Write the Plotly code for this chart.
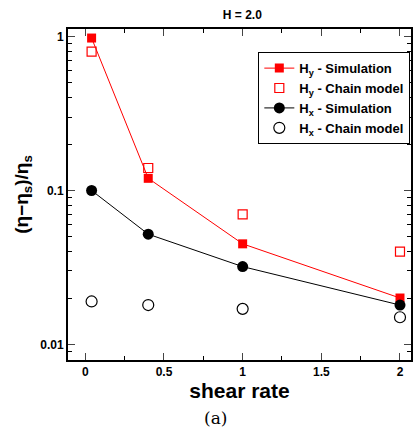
import plotly.graph_objects as go

shear = [0.04, 0.4, 1.0, 2.0]
hy_sim = [0.98, 0.12, 0.045, 0.020]
hy_chain = [0.80, 0.14, 0.070, 0.040]
hx_sim = [0.10, 0.052, 0.032, 0.018]
hx_chain = [0.019, 0.018, 0.017, 0.015]

ytickvals = [1, 0.1, 0.01]
yticktext = ["1", "0.1", "0.01"]

FONT = "Liberation Sans"

fig = go.Figure()
fig.add_trace(go.Scatter(x=shear, y=hy_sim, mode="lines+markers",
                         name="<b>H<sub>y</sub> - Simulation</b>",
                         line=dict(color="red", width=1),
                         marker=dict(symbol="square", size=9, color="red")))
fig.add_trace(go.Scatter(x=shear, y=hy_chain, mode="markers",
                         name="<b>H<sub>y</sub> - Chain model</b>",
                         marker=dict(symbol="square-open", size=9, color="red", line=dict(width=1.2))))
fig.add_trace(go.Scatter(x=shear, y=hx_sim, mode="lines+markers",
                         name="<b>H<sub>x</sub> - Simulation</b>",
                         line=dict(color="black", width=1),
                         marker=dict(symbol="circle", size=11, color="black")))
fig.add_trace(go.Scatter(x=shear, y=hx_chain, mode="markers",
                         name="<b>H<sub>x</sub> - Chain model</b>",
                         marker=dict(symbol="circle-open", size=11, color="black", line=dict(width=1.2))))

fig.update_layout(
    width=415, height=432,
    margin=dict(l=68, r=2, t=29, b=72),
    paper_bgcolor="white", plot_bgcolor="white",
    font=dict(family=FONT, color="black", size=12),
    showlegend=True,
    title=dict(text="<b>H = 2.0</b>", x=0.584, xanchor="center", y=0.965, yanchor="middle",
               font=dict(size=12, family=FONT)),
    legend=dict(x=0.998, xanchor="right", y=0.93, yanchor="top",
                bordercolor="black", borderwidth=1, bgcolor="white",
                font=dict(size=13, family=FONT), tracegroupgap=0, itemwidth=30),
    xaxis=dict(range=[-0.11, 2.07], tickvals=[0, 0.5, 1, 1.5, 2],
               ticktext=["<b>0</b>", "<b>0.5</b>", "<b>1</b>", "<b>1.5</b>", "<b>2</b>"],
               ticks="inside", ticklen=7, tickwidth=1, mirror="allticks",
               showline=True, linecolor="black", linewidth=2, showgrid=False, zeroline=False,
               minor=dict(dtick=0.25, tick0=0, ticks="inside", ticklen=4, tickcolor="black"),
               tickfont=dict(size=12, family=FONT),
               title=dict(text="<b>shear rate</b>", font=dict(size=21, family=FONT), standoff=4)),
    yaxis=dict(type="log", range=[-2.102, 0.05], tickvals=ytickvals,
               ticktext=["<b>" + t + "</b>" for t in yticktext],
               ticks="inside", ticklen=7, tickwidth=1, mirror="allticks",
               showline=True, linecolor="black", linewidth=2, showgrid=False, zeroline=False,
               minor=dict(ticks="inside", ticklen=4, tickcolor="black", dtick="D1"),
               tickfont=dict(size=12, family=FONT),
               title=dict(text="<b>(η−η<sub>s</sub>)/η<sub>s</sub></b>", font=dict(size=19, family=FONT), standoff=7)),
)

fig.add_annotation(text="(a)", xref="paper", yref="paper", x=0.429, y=-0.175,
                   xanchor="center", yanchor="middle", showarrow=False,
                   font=dict(family="DejaVu Serif", size=17, color="black"))

fig.write_html("out.html", config={"displayModeBar": False},
               post_script="document.body.style.margin='0';document.body.style.overflow='hidden';")
